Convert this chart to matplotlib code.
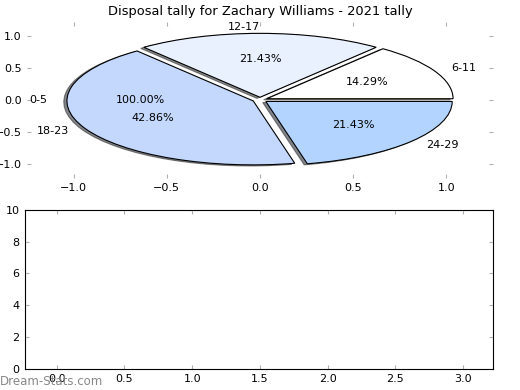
import matplotlib
matplotlib.use('Agg')
import matplotlib.pyplot as plt

# tally data
ages = ['6-11', '12-17', '18-23', '24-29']
tally = [2, 3, 6, 3]
colours = ['#ffffff', '#eaf1fe', '#c4d8fe', '#b3d4fe']
empty_age = ['0-5']
empty_share = [1]

title = 'Disposal tally for Zachary Williams - 2021 tally'
bar_xticks = [0.0, 0.5, 1.0, 1.5, 2.0, 2.5, 3.0]
bar_yticks = [0, 2, 4, 6, 8, 10]

plt.rcParams['font.family'] = ['DejaVu Sans']
fig = plt.figure(figsize=(5.2, 3.9), dpi=100)

# pie on top
ax = fig.add_axes([0.052, 0.544, 0.896, 0.4])
ax.pie(tally, labels=ages, colors=colours, autopct='%1.2f%%',
       explode=[0.04] * len(tally),
       shadow={'ox': -0.012, 'oy': -0.012, 'shade': 0.75,
               'edgecolor': '#333333', 'linewidth': 0.8, 'alpha': 0.6},
       wedgeprops={'edgecolor': 'black', 'linewidth': 0.8},
       textprops={'fontsize': 8})
# the empty age group only gets its label
ax.pie(empty_share, labels=empty_age, autopct='%1.2f%%', explode=[0.04],
       wedgeprops={'visible': False}, textprops={'fontsize': 8})
ax.set_aspect('auto')
ax.set_frame_on(False)
ax.set_xlim(-1.25, 1.25)
ax.set_ylim(-1.22, 1.22)
ax.set_xticks([-1.0, -0.5, 0.0, 0.5, 1.0])
ax.set_yticks([-1.0, -0.5, 0.0, 0.5, 1.0])
ax.tick_params(direction='in', length=3, color='#b0b0b0', labelsize=8,
               top=True, right=True, pad=4)
ax.set_title(title, fontsize=9.4, pad=5)

# empty bottom axes
ax2 = fig.add_axes([0.048, 0.054, 0.9, 0.408])
ax2.set_xlim(-0.234, 3.22)
ax2.set_ylim(0, 10)
ax2.set_xticks(bar_xticks)
ax2.set_yticks(bar_yticks)
ax2.tick_params(direction='in', length=3, color='#b0b0b0', labelsize=8,
                top=True, right=True, pad=4)

fig.text(0.0, 0.012, 'Dream-Stats.com', fontsize=8.5, color='#888888')

plt.savefig('out.png', dpi=100)
